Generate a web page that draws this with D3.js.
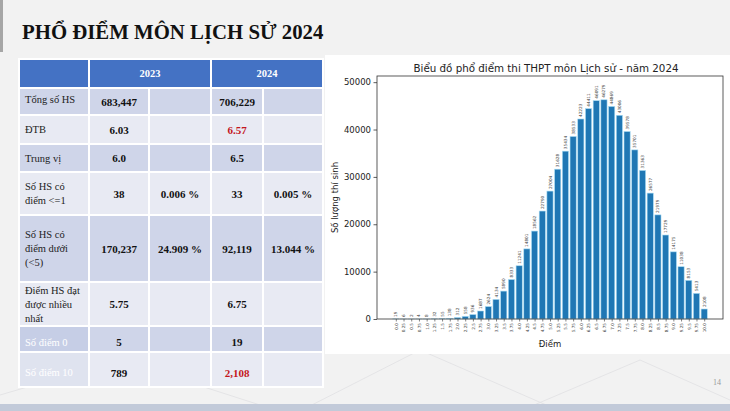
<!DOCTYPE html>
<html>
<head>
<meta charset="utf-8">
<script src="https://cdn.jsdelivr.net/npm/d3@7"></script>
<style>
  body { margin: 0; background: #f2f2f2; }
  svg { display: block; }
</style>
</head>
<body>
<div id="slide"></div>
<script>
// Slide size
var svgWidth = 730;
var svgHeight = 411;

// ---- data: table ----
var rowLabels = [
    ["Tổng số HS"],
    ["ĐTB"],
    ["Trung vị"],
    ["Số HS có", "điểm <=1"],
    ["Số HS có", "điểm dưới", "(<5)"],
    ["Điểm HS đạt", "được nhiều", "nhất"],
    ["Số điểm 0"],
    ["Số điểm 10"]
];
var val2023 = ["683,447", "6.03", "6.0", "38", "170,237", "5.75", "5", "789"];
var pct2023 = ["", "", "", "0.006 %", "24.909 %", "", "", ""];
var val2024 = ["706,229", "6.57", "6.5", "33", "92,119", "6.75", "19", "2,108"];
var pct2024 = ["", "", "", "0.005 %", "13.044 %", "", "", ""];
var redCells2024 = ["6.57", "2,108"];

// ---- data: histogram ----
var scoreLabels = ["0.0", "0.25", "0.5", "0.75", "1.0", "1.25", "1.5", "1.75", "2.0", "2.25",
    "2.5", "2.75", "3.0", "3.25", "3.5", "3.75", "4.0", "4.25", "4.5", "4.75",
    "5.0", "5.25", "5.5", "5.75", "6.0", "6.25", "6.5", "6.75", "7.0", "7.25",
    "7.5", "7.75", "8.0", "8.25", "8.5", "8.75", "9.0", "9.25", "9.5", "9.75", "10.0"];
var counts = [19, 6, 2, 4, 8, 32, 55, 138, 312, 558,
    936, 1687, 2624, 4134, 5890, 8333, 11241, 14801, 18562, 22790,
    27004, 31628, 35434, 38533, 42223, 44411, 46091, 46279, 44869, 43006,
    39578, 35701, 31363, 26577, 21979, 17729, 14175, 11038, 8153, 5413, 2108];
var yTicks = [0, 10000, 20000, 30000, 40000, 50000];

var serif = "'Liberation Serif', 'Times New Roman', serif";
var sans = "'DejaVu Sans', sans-serif";

var svg = d3.select("#slide")
    .append("svg")
    .attr("width", svgWidth)
    .attr("height", svgHeight);

// background + decorations
svg.append("rect").attr("width", svgWidth).attr("height", svgHeight).attr("fill", "#f2f2f2");
var deco = svg.append("g").attr("stroke", "#e4e4e6").attr("stroke-width", 1).attr("fill", "none");
[[300, 411, 420, 350], [420, 350, 560, 411], [520, 411, 640, 360], [640, 360, 730, 400], [0, 395, 120, 360], [120, 360, 260, 405]]
    .forEach(function (l) {
        deco.append("line").attr("x1", l[0]).attr("y1", l[1]).attr("x2", l[2]).attr("y2", l[3]);
    });
svg.append("rect").attr("x", 0).attr("y", 404).attr("width", svgWidth).attr("height", 7).attr("fill", "#c2cad9");
svg.append("rect").attr("x", 0).attr("y", 0).attr("width", 3).attr("height", 52).attr("fill", "#a6a6a6");

// slide title
svg.append("text")
    .attr("x", 22).attr("y", 39)
    .attr("font-family", serif).attr("font-weight", "bold").attr("font-size", "20.8px")
    .attr("fill", "#111")
    .text("PHỔ ĐIỂM MÔN LỊCH SỬ 2024");

svg.append("text")
    .attr("x", 717).attr("y", 385)
    .attr("text-anchor", "middle")
    .attr("font-family", serif).attr("font-size", "8px").attr("fill", "#9a9a9a")
    .text("14");

// ---- table ----
var colX = [19, 89, 149, 211, 263, 323];
var rowY = [59, 88, 115, 144, 172, 215, 282, 326, 352, 387];
var table = svg.append("g");

// header
table.append("rect").attr("x", colX[0]).attr("y", rowY[0]).attr("width", colX[1] - colX[0]).attr("height", rowY[1] - rowY[0])
    .attr("fill", "#4472c4").attr("stroke", "#fff").attr("stroke-width", 2);
[["2023", colX[1], colX[3]], ["2024", colX[3], colX[5]]].forEach(function (h) {
    table.append("rect").attr("x", h[1]).attr("y", rowY[0]).attr("width", h[2] - h[1]).attr("height", rowY[1] - rowY[0])
        .attr("fill", "#4472c4").attr("stroke", "#fff").attr("stroke-width", 2);
    table.append("text")
        .attr("x", (h[1] + h[2]) / 2).attr("y", (rowY[0] + rowY[1]) / 2 + 3.5)
        .attr("text-anchor", "middle")
        .attr("font-family", serif).attr("font-weight", "bold").attr("font-size", "10.5px").attr("fill", "#fff")
        .text(h[0]);
});

rowLabels.forEach(function (lines, i) {
    var y0 = rowY[i + 1], y1 = rowY[i + 2];
    var dark = i % 2 === 0;
    var fill = dark ? "#cfd5e9" : "#e8eaf3";
    for (var c = 0; c < 5; c++) {
        table.append("rect")
            .attr("x", colX[c]).attr("y", y0)
            .attr("width", colX[c + 1] - colX[c]).attr("height", y1 - y0)
            .attr("fill", (c === 0 && i >= 6) ? (dark ? "#c6cee6" : "#dfe3ef") : fill)
            .attr("stroke", "#fff").attr("stroke-width", 2);
    }
    var cy = (y0 + y1) / 2;
    if (i >= 6) cy += 3;
    var lh = 14;
    lines.forEach(function (t, k) {
        table.append("text")
            .attr("x", colX[0] + 6)
            .attr("y", cy - (lines.length - 1) * lh / 2 + k * lh + (i === 0 ? -2 : 0) + 3.5)
            .attr("font-family", serif).attr("font-size", "10.5px")
            .attr("fill", i >= 6 ? "#ffffff" : "#222")
            .text(t);
    });
    var cells = [val2023[i], pct2023[i], val2024[i], pct2024[i]];
    cells.forEach(function (t, k) {
        if (!t) return;
        table.append("text")
            .attr("x", (colX[k + 1] + colX[k + 2]) / 2)
            .attr("y", cy + 4)
            .attr("text-anchor", "middle")
            .attr("font-family", serif).attr("font-weight", "bold").attr("font-size", "11px")
            .attr("fill", (k === 2 && redCells2024.indexOf(t) >= 0) ? "#c4161c" : "#111")
            .text(t);
    });
});

// ---- histogram panel ----
svg.append("rect").attr("x", 325).attr("y", 55).attr("width", 405).attr("height", 299).attr("fill", "#ffffff");

var plot = { left: 377, right: 723, top: 76, bottom: 319 };
var scoreNums = scoreLabels.map(function (s) { return +s; });

var xScale = d3.scaleLinear()
    .domain([-0.61, 10.61])
    .range([plot.left, plot.right]);
var yScale = d3.scaleLinear()
    .domain([0, 51300])
    .range([plot.bottom, plot.top]);
var barW = xScale(0.2) - xScale(0);

var chart = svg.append("g");

chart.selectAll(".bar")
    .data(counts)
    .enter()
    .append("rect")
    .attr("class", "bar")
    .attr("x", function (d, i) { return xScale(scoreNums[i]) - barW / 2; })
    .attr("y", function (d) { return yScale(d); })
    .attr("width", barW)
    .attr("height", function (d) { return plot.bottom - yScale(d); })
    .attr("fill", "#1f77b4")
    .attr("stroke", "#a9dcf3")
    .attr("stroke-width", 0.6);

chart.selectAll(".barlabel")
    .data(counts)
    .enter()
    .append("text")
    .attr("class", "barlabel")
    .attr("transform", function (d, i) {
        return "translate(" + (xScale(scoreNums[i]) + 1.5) + "," + (yScale(d) - 2) + ") rotate(-90)";
    })
    .attr("font-family", sans).attr("font-size", "4.2px").attr("fill", "#333")
    .text(function (d) { return d; });

// axes
var leftAxis = d3.axisLeft(yScale).tickValues(yTicks).tickFormat(d3.format("d")).tickSize(3.5).tickPadding(2.5);
var yAxisG = chart.append("g").attr("transform", "translate(" + plot.left + ",0)").call(leftAxis);
yAxisG.select(".domain").remove();
yAxisG.selectAll("text").attr("font-family", sans).attr("font-size", "8.5px").attr("fill", "#222");
yAxisG.selectAll("line").attr("stroke", "#333").attr("stroke-width", 0.8);

var bottomAxis = d3.axisBottom(xScale)
    .tickValues(scoreNums)
    .tickFormat(function (d, i) { return scoreLabels[i]; })
    .tickSize(2.5);
var xAxisG = chart.append("g").attr("transform", "translate(0," + plot.bottom + ")").call(bottomAxis);
xAxisG.select(".domain").remove();
xAxisG.selectAll("line").attr("stroke", "#333").attr("stroke-width", 0.6);
xAxisG.selectAll("text")
    .attr("font-family", sans).attr("font-size", "4.2px").attr("fill", "#333")
    .attr("text-anchor", "end")
    .attr("dy", "0.32em")
    .attr("transform", "translate(0,4) rotate(-90)")
    .attr("x", 0).attr("y", 0);

// frame
chart.append("rect")
    .attr("x", plot.left).attr("y", plot.top)
    .attr("width", plot.right - plot.left).attr("height", plot.bottom - plot.top)
    .attr("fill", "none").attr("stroke", "#333").attr("stroke-width", 0.8);

// titles
chart.append("text")
    .attr("x", 546).attr("y", 72)
    .attr("text-anchor", "middle")
    .attr("font-family", sans).attr("font-size", "10.3px").attr("fill", "#222")
    .text("Biểu đồ phổ điểm thi THPT môn Lịch sử - năm 2024");

chart.append("text")
    .attr("x", (plot.left + plot.right) / 2).attr("y", 347)
    .attr("text-anchor", "middle")
    .attr("font-family", sans).attr("font-size", "8.5px").attr("fill", "#222")
    .text("Điểm");

chart.append("text")
    .attr("transform", "translate(338," + (plot.top + plot.bottom) / 2 + ") rotate(-90)")
    .attr("text-anchor", "middle")
    .attr("font-family", sans).attr("font-size", "8.5px").attr("fill", "#222")
    .text("Số lượng thí sinh");
</script>
</body>
</html>
